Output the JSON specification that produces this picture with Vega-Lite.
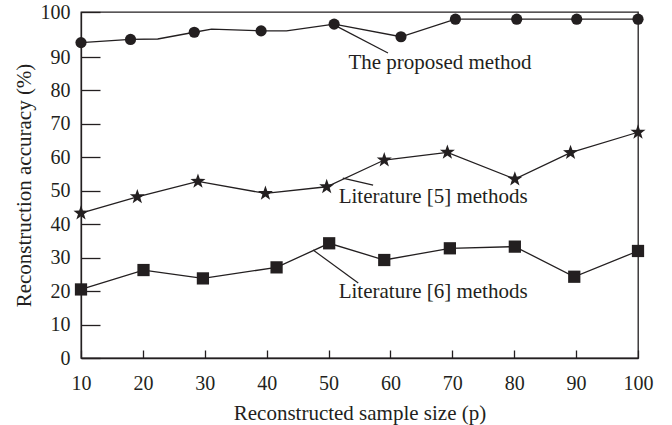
{
  "$schema": "https://vega.github.io/schema/vega-lite/v6.json",
  "width": 557,
  "height": 346,
  "autosize": {"type": "none"},
  "padding": {"left": 81, "top": 12, "right": 34, "bottom": 67},
  "background": "white",
  "config": {
    "font": "Liberation Serif",
    "view": {"stroke": "#231f20", "strokeWidth": 1.3},
    "axis": {
      "grid": false,
      "domainColor": "#231f20",
      "domainWidth": 1.3,
      "tickColor": "#231f20",
      "tickWidth": 1.3,
      "labelColor": "#231f20",
      "labelFont": "Liberation Serif",
      "labelFontSize": 20,
      "labelOverlap": false,
      "titleColor": "#231f20",
      "titleFont": "Liberation Serif",
      "titleFontSize": 21,
      "titleFontWeight": "normal"
    }
  },
  "datasets": {
    "series": [
      {"method": "The proposed method", "p": 10, "acc": 93.2, "marked": true},
      {"method": "The proposed method", "p": 18.0, "acc": 93.9, "marked": true},
      {"method": "The proposed method", "p": 22.4, "acc": 94.0, "marked": false},
      {"method": "The proposed method", "p": 28.3, "acc": 95.5, "marked": true},
      {"method": "The proposed method", "p": 31.1, "acc": 96.2, "marked": false},
      {"method": "The proposed method", "p": 39.1, "acc": 95.8, "marked": true},
      {"method": "The proposed method", "p": 43.2, "acc": 95.8, "marked": false},
      {"method": "The proposed method", "p": 50.9, "acc": 97.3, "marked": true},
      {"method": "The proposed method", "p": 61.7, "acc": 94.5, "marked": true},
      {"method": "The proposed method", "p": 70.5, "acc": 98.4, "marked": true},
      {"method": "The proposed method", "p": 80.4, "acc": 98.4, "marked": true},
      {"method": "The proposed method", "p": 90.1, "acc": 98.4, "marked": true},
      {"method": "The proposed method", "p": 100, "acc": 98.4, "marked": true},
      {"method": "Literature [5] methods", "p": 10, "acc": 43.3, "marked": true},
      {"method": "Literature [5] methods", "p": 19.1, "acc": 48.2, "marked": true},
      {"method": "Literature [5] methods", "p": 28.9, "acc": 52.8, "marked": true},
      {"method": "Literature [5] methods", "p": 39.8, "acc": 49.2, "marked": true},
      {"method": "Literature [5] methods", "p": 49.7, "acc": 51.2, "marked": true},
      {"method": "Literature [5] methods", "p": 59.0, "acc": 59.2, "marked": true},
      {"method": "Literature [5] methods", "p": 69.2, "acc": 61.5, "marked": true},
      {"method": "Literature [5] methods", "p": 80.1, "acc": 53.5, "marked": true},
      {"method": "Literature [5] methods", "p": 89.1, "acc": 61.4, "marked": true},
      {"method": "Literature [5] methods", "p": 100, "acc": 67.5, "marked": true},
      {"method": "Literature [6] methods", "p": 10, "acc": 20.5, "marked": true},
      {"method": "Literature [6] methods", "p": 20.1, "acc": 26.3, "marked": true},
      {"method": "Literature [6] methods", "p": 29.7, "acc": 23.8, "marked": true},
      {"method": "Literature [6] methods", "p": 41.6, "acc": 27.1, "marked": true},
      {"method": "Literature [6] methods", "p": 50.1, "acc": 34.3, "marked": true},
      {"method": "Literature [6] methods", "p": 59.0, "acc": 29.3, "marked": true},
      {"method": "Literature [6] methods", "p": 69.6, "acc": 32.8, "marked": true},
      {"method": "Literature [6] methods", "p": 80.1, "acc": 33.3, "marked": true},
      {"method": "Literature [6] methods", "p": 89.7, "acc": 24.3, "marked": true},
      {"method": "Literature [6] methods", "p": 100, "acc": 32.0, "marked": true}
    ],
    "annotations": [
      {"label": "The proposed method", "p": 68.0, "acc": 88.2, "lp": 51.5, "lacc": 96.7, "lp2": 59.6, "lacc2": 90.9},
      {"label": "Literature [5] methods", "p": 66.9, "acc": 48.1, "lp": 52.3, "lacc": 53.8, "lp2": 57.2, "lacc2": 51.7},
      {"label": "Literature [6] methods", "p": 66.9, "acc": 19.7, "lp": 47.5, "lacc": 32.3, "lp2": 54.8, "lacc2": 22.4}
    ]
  },
  "layer": [
    {
      "data": {"name": "series"},
      "mark": {"type": "line", "color": "#231f20", "strokeWidth": 1.3},
      "encoding": {
        "x": {
          "field": "p", "type": "quantitative",
          "scale": {"domain": [10, 100], "nice": false, "zero": false},
          "axis": {
            "title": "Reconstructed sample size (p)",
            "values": [10, 20, 30, 40, 50, 60, 70, 80, 90, 100],
            "tickCount": 20,
            "tickSize": -8,
            "labelPadding": 23,
            "labelFlush": false,
            "labelOverlap": false,
            "titlePadding": 9
          }
        },
        "y": {
          "field": "acc", "type": "quantitative",
          "scale": {"domain": [0, 90, 100], "range": [346, 45, 0], "nice": false, "zero": false},
          "axis": {
            "title": "Reconstruction accuracy (%)",
            "values": [0, 10, 20, 30, 40, 50, 60, 70, 80, 90, 100],
            "tickCount": 20,
            "tickSize": -19,
            "labelPadding": 30,
            "labelOverlap": false,
            "titlePadding": 6
          }
        },
        "detail": {"field": "method"},
        "order": {"field": "p", "type": "quantitative"}
      }
    },
    {
      "data": {"name": "series"},
      "transform": [{"filter": "datum.marked"}],
      "mark": {"type": "point", "filled": true, "color": "#231f20", "opacity": 1, "strokeWidth": 0},
      "encoding": {
        "x": {"field": "p", "type": "quantitative"},
        "y": {"field": "acc", "type": "quantitative"},
        "shape": {
          "field": "method", "type": "nominal", "legend": null,
          "scale": {
            "domain": ["The proposed method", "Literature [5] methods", "Literature [6] methods"],
            "range": ["circle", "M0,-1L0.235,-0.324L0.951,-0.309L0.38,0.124L0.588,0.809L0,0.4L-0.588,0.809L-0.38,0.124L-0.951,-0.309L-0.235,-0.324Z", "square"]
          }
        },
        "size": {
          "field": "method", "type": "nominal", "legend": null,
          "scale": {
            "type": "ordinal",
            "domain": ["The proposed method", "Literature [5] methods", "Literature [6] methods"],
            "range": [125, 250, 150]
          }
        }
      }
    },
    {
      "data": {"name": "annotations"},
      "mark": {"type": "rule", "color": "#231f20", "strokeWidth": 1.2},
      "encoding": {
        "x": {"field": "lp", "type": "quantitative"},
        "y": {"field": "lacc", "type": "quantitative"},
        "x2": {"field": "lp2"},
        "y2": {"field": "lacc2"}
      }
    },
    {
      "data": {"name": "annotations"},
      "mark": {"type": "text", "color": "#231f20", "font": "Liberation Serif", "fontSize": 21, "align": "center", "baseline": "middle"},
      "encoding": {
        "x": {"field": "p", "type": "quantitative"},
        "y": {"field": "acc", "type": "quantitative"},
        "text": {"field": "label"}
      }
    }
  ]
}
